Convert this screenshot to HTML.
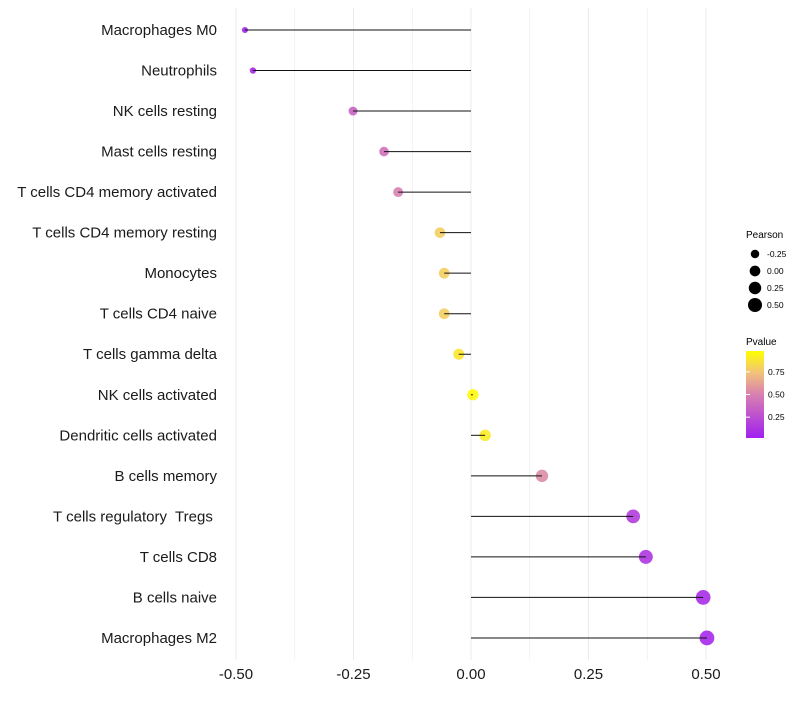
<!DOCTYPE html>
<html><head><meta charset="utf-8"><style>
body{margin:0;background:#fff;font-family:"Liberation Sans",sans-serif}
</style></head><body>
<svg id="chart" width="800" height="700" xmlns="http://www.w3.org/2000/svg" font-family="Liberation Sans, sans-serif">
<defs><linearGradient id="pg" x1="0" y1="1" x2="0" y2="0">
<stop offset="0" stop-color="#A020F0"/><stop offset="0.5" stop-color="#D880B0"/><stop offset="0.75" stop-color="#F2C27A"/><stop offset="1" stop-color="#FFFF00"/></linearGradient></defs>
<g id="grid"></g><g id="dots"></g><g id="marks"></g><g id="ylabels"></g><g id="xlabels"></g>
<g font-size="9">
<text x="746" y="238" font-size="10">Pearson</text>
<g id="sizeLegend"></g>
<text x="746" y="345" font-size="10">Pvalue</text>
<rect x="746" y="351" width="18" height="87" fill="url(#pg)"/>
<g id="colorTicks"></g>
</g>
</svg>
<script>
const categories=["Macrophages M0","Neutrophils","NK cells resting","Mast cells resting","T cells CD4 memory activated","T cells CD4 memory resting","Monocytes","T cells CD4 naive","T cells gamma delta","NK cells activated","Dendritic cells activated","B cells memory","T cells regulatory\u00a0 Tregs\u00a0","T cells CD8","B cells naive","Macrophages M2"];
const pearson=[-0.481,-0.464,-0.251,-0.185,-0.155,-0.066,-0.057,-0.057,-0.026,0.004,0.030,0.151,0.345,0.372,0.494,0.502];
const pvalue=[0.02,0.04,0.35,0.42,0.5,0.8,0.8,0.8,0.9,0.98,0.92,0.55,0.15,0.12,0.07,0.05];
const xTicks=[-0.5,-0.25,0,0.25,0.5];
const xTickLabels=["-0.50","-0.25","0.00","0.25","0.50"];
const sizeLegendVals=[-0.25,0,0.25,0.5];
const sizeLegendLabels=["-0.25","0.00","0.25","0.50"];
const colorTickVals=[0.25,0.5,0.75];
const colorTickLabels=["0.25","0.50","0.75"];
const NS="http://www.w3.org/2000/svg";
const x=v=>471+v*470;
const y=i=>30+i*40.53;
const r=v=>Math.sqrt(Math.max(3,20+(v+0.25)*46));
function col(p){const st=[[0,[160,32,240]],[0.5,[216,128,176]],[0.75,[242,194,122]],[1,[255,255,0]]];
for(let k=1;k<st.length;k++){if(p<=st[k][0]){const a=st[k-1],b=st[k],t=(p-a[0])/(b[0]-a[0]);return `rgb(${a[1].map((c,j)=>Math.round(c+(b[1][j]-c)*t)).join(',')})`;}}return 'rgb(255,255,0)';}
function mk(t,at,p){const e=document.createElementNS(NS,t);for(const k in at)e.setAttribute(k,at[k]);p.appendChild(e);return e;}
const grid=document.getElementById('grid');
for(let v=-0.5;v<=0.5001;v+=0.125){const l=mk('line',{x1:x(v),x2:x(v),y1:8,y2:660,stroke:'#ebebeb','stroke-width':Math.abs((v*4)%1)<0.01?1:0.6},grid);

}
const marks=document.getElementById('marks'),dots=document.getElementById('dots'),yl=document.getElementById('ylabels');
categories.forEach((c,i)=>{
const d=mk('circle',{cx:x(pearson[i]),cy:y(i),r:r(pearson[i]),fill:col(pvalue[i]),'fill-opacity':0.9},dots);


const s=mk('line',{x1:x(0),x2:x(pearson[i]),y1:y(i),y2:y(i),stroke:'#111','stroke-width':1},marks);


const t=mk('text',{x:217,y:y(i)+5,'text-anchor':'end','font-size':15,fill:'#1a1a1a'},yl);t.textContent=c;


});
const xl=document.getElementById('xlabels');
xTicks.forEach((v,i)=>{const t=mk('text',{x:x(v),y:679,'text-anchor':'middle','font-size':15,fill:'#1a1a1a'},xl);t.textContent=xTickLabels[i];

});
const sl=document.getElementById('sizeLegend');
sizeLegendVals.forEach((v,i)=>{const cy=254+i*17;
const c=mk('circle',{cx:755,cy:cy,r:r(v)*0.95,fill:'#000'},sl);


const t=mk('text',{x:767,y:cy+3,'font-size':8.5},sl);t.textContent=sizeLegendLabels[i];

});
const ct=document.getElementById('colorTicks');
colorTickVals.forEach((v,i)=>{const yy=438-(v-0.02)/0.96*87;
const l=mk('line',{x1:746,x2:750,y1:yy,y2:yy,stroke:'#fff'},ct);


const t=mk('text',{x:768,y:yy+3,'font-size':8.5},ct);t.textContent=colorTickLabels[i];

});
</script>
</body></html>
